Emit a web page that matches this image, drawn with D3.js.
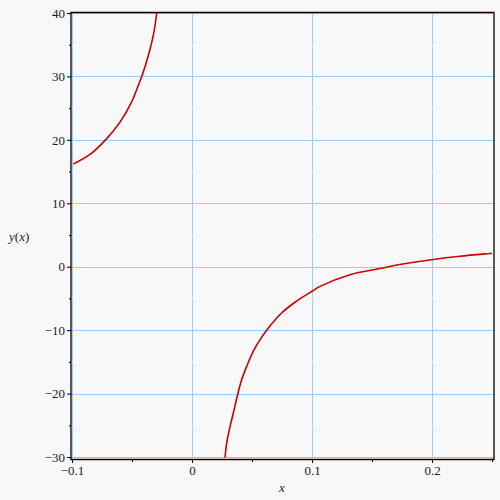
<!DOCTYPE html>
<html>
<head>
<meta charset="utf-8">
<script src="https://cdn.jsdelivr.net/npm/d3@7"></script>
<style>
  body { margin: 0; background: #f8f8f8; }
  svg { display: block; }
</style>
</head>
<body>
<svg id="chart" width="500" height="500"></svg>
<script>
// branch left of the pole
var leftX = [-0.0989, -0.085, -0.0711, -0.06, -0.0503, -0.0447, -0.0406, -0.0364, -0.0322, -0.0294];
var leftY = [16.2, 17.7, 20.2, 22.8, 26.0, 28.6, 30.7, 33.3, 36.5, 40.0];

// branch right of the pole
var rightX = [0.0275, 0.0289, 0.0317, 0.0344, 0.0381, 0.0414, 0.0456, 0.0511, 0.0567, 0.0622,
              0.0747, 0.0858, 0.0997, 0.1067, 0.1317, 0.1567, 0.173, 0.201, 0.2233, 0.2483, 0.25];
var rightY = [-30.1, -27.8, -25.2, -23.1, -20.1, -17.8, -15.7, -13.3, -11.5, -10.0,
              -7.3, -5.6, -3.9, -3.1, -1.26, -0.29, 0.36, 1.15, 1.65, 2.09, 2.12];

var xTicks = [-0.1, 0, 0.1, 0.2];
var xMinor = [-0.05, 0.05, 0.15, 0.25];
var yTicks = [-30, -20, -10, 0, 10, 20, 30, 40];
var yMinor = [-25, -15, -5, 5, 15, 25, 35];

var serif = 'Liberation Serif';

var svg = d3.select('#chart');
var bg = '#f8f8f8';

var x = d3.scaleLinear().domain([-0.1, 0.25]).range([72, 492]);
var y = d3.scaleLinear().domain([-30, 40]).range([457, 13]);

var fmt = function (d) {
  return d < 0 ? '\u2212' + Math.abs(d) : String(d);
};

svg.append('rect')
  .attr('width', 500).attr('height', 500)
  .style('fill', bg);

// grid
var grid = svg.append('g').attr('class', 'grid');

grid.selectAll('line.gx')
  .data(xTicks)
  .enter().append('line')
  .attr('class', 'gx')
  .attr('x1', function (d) { return x(d) + 0.5; })
  .attr('x2', function (d) { return x(d) + 0.5; })
  .attr('y1', 13).attr('y2', 458)
  .style('stroke', '#99ccff')
  .style('stroke-width', 1);

grid.selectAll('line.gy')
  .data(yTicks)
  .enter().append('line')
  .attr('class', 'gy')
  .attr('y1', function (d) { return Math.round(y(d)) + 0.5; })
  .attr('y2', function (d) { return Math.round(y(d)) + 0.5; })
  .attr('x1', 71).attr('x2', 493)
  .style('stroke', '#99ccff')
  .style('stroke-width', 1);

// little gaps the original leaves in vertical grid lines at minor y ticks
xTicks.forEach(function (t) {
  grid.selectAll(null)
    .data(yMinor)
    .enter().append('rect')
    .attr('x', x(t))
    .attr('y', function (d) { return Math.round(y(d)); })
    .attr('width', 1).attr('height', 1)
    .style('fill', '#ffffff');
});

// curve
var line = d3.line()
  .x(function (d) { return x(d[0]); })
  .y(function (d) { return y(d[1]); })
  .curve(d3.curveCatmullRom.alpha(0.5));

svg.append('clipPath').attr('id', 'clip')
  .append('rect').attr('x', 71).attr('y', 12).attr('width', 422).attr('height', 447);

var curves = svg.append('g').attr('clip-path', 'url(#clip)');

[d3.zip(leftX, leftY), d3.zip(rightX, rightY)].forEach(function (pts) {
  curves.append('path')
    .datum(pts)
    .attr('d', line)
    .style('fill', 'none')
    .style('stroke', '#cc0000')
    .style('stroke-width', 1.6);
});

// frame
svg.append('path')
  .attr('d', 'M71,459.5 L71,12.5 L494,12.5 L494,459.5 Z')
  .style('fill', 'none')
  .style('stroke', '#000')
  .style('stroke-width', 1.3);

// axes
var yAx = svg.append('g')
  .attr('transform', 'translate(71,0)')
  .call(d3.axisLeft(y).tickValues(yTicks).tickSize(4).tickPadding(2).tickFormat(fmt));

svg.append('g')
  .attr('transform', 'translate(71,0)')
  .call(d3.axisLeft(y).tickValues(yMinor).tickSize(2).tickFormat(''));

var xAx = svg.append('g')
  .attr('transform', 'translate(0,459)')
  .call(d3.axisBottom(x).tickValues(xTicks).tickSize(4).tickPadding(3).tickFormat(fmt));

svg.append('g')
  .attr('transform', 'translate(0,459)')
  .call(d3.axisBottom(x).tickValues(xMinor).tickSize(3).tickFormat(''));

svg.selectAll('.domain').remove();
svg.selectAll('.tick line').style('stroke', '#000');
yAx.attr('font-family', serif).attr('font-size', 13);
xAx.attr('font-family', 'Times New Roman').attr('font-size', 13);
svg.selectAll('.tick text').attr('fill', '#222');

// axis titles
svg.append('text')
  .attr('x', 282).attr('y', 492)
  .attr('text-anchor', 'middle')
  .attr('font-family', serif)
  .attr('font-size', 13)
  .attr('font-style', 'italic')
  .attr('fill', '#222')
  .text('x');

var yl = svg.append('text')
  .attr('x', 9).attr('y', 241)
  .attr('font-family', serif)
  .attr('font-size', 13)
  .attr('fill', '#222');
yl.append('tspan').attr('font-style', 'italic').text('y');
yl.append('tspan').text('(');
yl.append('tspan').attr('font-style', 'italic').text('x');
yl.append('tspan').text(')');
</script>
</body>
</html>
